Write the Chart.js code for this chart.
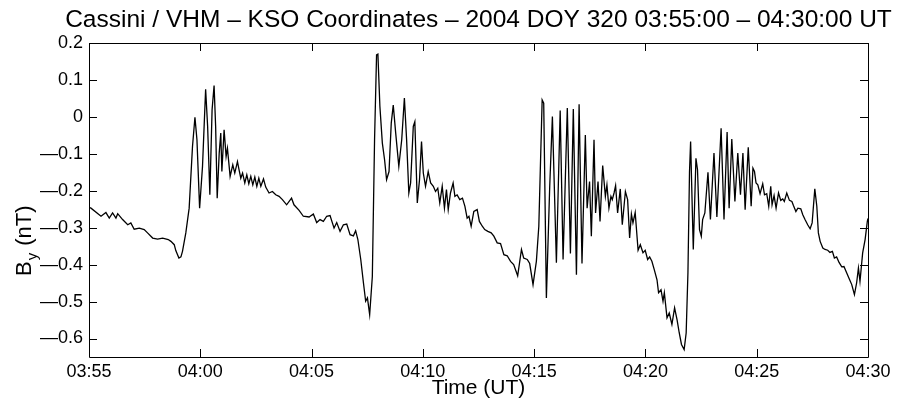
<!DOCTYPE html>
<html>
<head>
<meta charset="utf-8">
<script src="https://cdn.jsdelivr.net/npm/chart.js@4/dist/chart.umd.min.js"></script>
<style>
html,body{margin:0;padding:0;background:#fff;}
#wrap{width:910px;height:409px;}
</style>
</head>
<body>
<div id="wrap"><canvas id="c" width="910" height="409"></canvas></div>
<script>
// Time in minutes after 03:55:00 UT
const timeMin = [
  0, 0.09, 0.54, 0.76, 0.91, 1.06, 1.21, 1.29, 1.51, 1.74,
  1.88, 2.03, 2.26, 2.48, 2.63, 2.86, 3.08, 3.31, 3.56, 3.68,
  3.83, 3.90, 4.04, 4.13, 4.20, 4.35, 4.50, 4.65, 4.76, 4.85,
  4.97, 5.10, 5.24, 5.33, 5.43, 5.53, 5.62, 5.69, 5.76, 5.85,
  5.92, 5.97, 6.07, 6.16, 6.22, 6.34, 6.46, 6.55, 6.67, 6.74,
  6.82, 6.90, 7.00, 7.09, 7.18, 7.27, 7.36, 7.45, 7.54, 7.63,
  7.72, 7.84, 7.94, 8.09, 8.24, 8.39, 8.54, 8.69, 8.88, 9.10,
  9.21, 9.44, 9.63, 9.89, 10.08, 10.23, 10.38, 10.53, 10.68, 10.83,
  11.01, 11.13, 11.28, 11.43, 11.58, 11.73, 11.88, 11.98, 12.08, 12.21,
  12.33, 12.43, 12.51, 12.61, 12.73, 12.83, 12.92, 12.98, 13.07, 13.18,
  13.28, 13.37, 13.48, 13.58, 13.67, 13.78, 13.92, 14.05, 14.17, 14.27,
  14.37, 14.45, 14.57, 14.64, 14.75, 14.85, 14.94, 15.02, 15.12, 15.24,
  15.35, 15.47, 15.57, 15.67, 15.76, 15.87, 15.97, 16.06, 16.14, 16.24,
  16.36, 16.44, 16.54, 16.66, 16.78, 16.89, 16.99, 17.07, 17.17, 17.29,
  17.44, 17.54, 17.67, 17.78, 17.92, 18.07, 18.19, 18.34, 18.49, 18.64,
  18.79, 18.94, 19.08, 19.26, 19.43, 19.53, 19.69, 19.80, 19.95, 20.10,
  20.21, 20.36, 20.43, 20.55, 20.70, 20.82, 21.00, 21.17, 21.30, 21.49,
  21.63, 21.76, 21.90, 22.02, 22.15, 22.30, 22.38, 22.49, 22.57, 22.69,
  22.76, 22.87, 22.96, 23.08, 23.20, 23.27, 23.36, 23.45, 23.51, 23.59,
  23.66, 23.75, 23.87, 23.96, 24.10, 24.20, 24.29, 24.37, 24.44, 24.54,
  24.67, 24.77, 24.89, 24.99, 25.10, 25.19, 25.29, 25.40, 25.52, 25.59,
  25.70, 25.79, 25.85, 25.97, 26.07, 26.19, 26.31, 26.42, 26.52, 26.62,
  26.74, 26.83, 26.91, 26.98, 27.03, 27.15, 27.27, 27.34, 27.43, 27.51,
  27.57, 27.67, 27.81, 27.92, 28.08, 28.21, 28.40, 28.53, 28.67, 28.76,
  28.88, 29.02, 29.15, 29.27, 29.38, 29.48, 29.62, 29.75, 29.83, 29.90,
  29.97, 30.05, 30.15, 30.27, 30.35, 30.45, 30.54, 30.63, 30.69, 30.78,
  30.87, 30.98, 31.08, 31.17, 31.24, 31.35, 31.47, 31.58, 31.65, 31.76,
  31.85, 31.98, 32.07, 32.17, 32.29, 32.40, 32.49, 32.61, 32.70, 32.77,
  32.85, 32.97, 33.07, 33.19, 33.29, 33.40, 33.49, 33.59, 33.70, 33.82,
  33.92, 34.04, 34.16, 34.27, 34.39, 34.49, 34.57, 34.64, 34.76, 34.87,
  34.97, 35.00
];
// B_y in nT
const byNT = [
  -0.245, -0.247, -0.269, -0.259, -0.274, -0.260, -0.274, -0.262, -0.278, -0.292,
  -0.287, -0.304, -0.301, -0.305, -0.314, -0.328, -0.331, -0.328, -0.332, -0.337,
  -0.346, -0.362, -0.382, -0.379, -0.364, -0.314, -0.247, -0.080, -0.001, -0.062,
  -0.247, -0.134, 0.075, -0.026, -0.211, 0.019, 0.085, -0.026, -0.220, -0.098,
  -0.044, -0.148, -0.035, -0.107, -0.085, -0.161, -0.130, -0.152, -0.121, -0.143,
  -0.166, -0.152, -0.179, -0.157, -0.181, -0.161, -0.184, -0.163, -0.188, -0.166,
  -0.188, -0.168, -0.190, -0.206, -0.202, -0.211, -0.215, -0.224, -0.238, -0.220,
  -0.238, -0.253, -0.269, -0.271, -0.263, -0.286, -0.278, -0.283, -0.269, -0.267,
  -0.301, -0.286, -0.310, -0.292, -0.290, -0.319, -0.322, -0.308, -0.332, -0.386,
  -0.449, -0.499, -0.490, -0.535, -0.432, -0.062, 0.168, 0.170, 0.028, -0.071,
  -0.116, -0.170, -0.148, -0.017, 0.032, -0.044, -0.134, -0.062, 0.051, -0.062,
  -0.206, -0.179, -0.026, -0.013, -0.233, -0.170, -0.067, -0.152, -0.188, -0.148,
  -0.179, -0.188, -0.202, -0.193, -0.233, -0.188, -0.247, -0.197, -0.251, -0.206,
  -0.179, -0.215, -0.211, -0.224, -0.220, -0.242, -0.274, -0.269, -0.296, -0.256,
  -0.251, -0.283, -0.296, -0.305, -0.310, -0.314, -0.323, -0.341, -0.343, -0.373,
  -0.376, -0.391, -0.400, -0.430, -0.359, -0.382, -0.386, -0.397, -0.454, -0.391,
  -0.296, 0.046, 0.037, -0.490, -0.188, 0.001, -0.395, 0.017, -0.386, 0.024,
  -0.370, 0.021, -0.427, 0.034, -0.397, -0.049, -0.247, -0.175, -0.323, -0.062,
  -0.260, -0.175, -0.283, -0.132, -0.215, -0.184, -0.247, -0.215, -0.224, -0.206,
  -0.186, -0.260, -0.195, -0.292, -0.202, -0.224, -0.328, -0.263, -0.287, -0.259,
  -0.361, -0.346, -0.368, -0.361, -0.386, -0.379, -0.391, -0.414, -0.441, -0.476,
  -0.468, -0.499, -0.476, -0.544, -0.531, -0.562, -0.517, -0.549, -0.585, -0.616,
  -0.630, -0.585, -0.422, -0.150, -0.067, -0.359, -0.112, -0.143, -0.305, -0.323,
  -0.278, -0.260, -0.150, -0.278, -0.098, -0.271, -0.031, -0.278, -0.041, -0.247,
  -0.060, -0.229, -0.098, -0.211, -0.098, -0.251, -0.082, -0.242, -0.139, -0.148,
  -0.179, -0.184, -0.208, -0.181, -0.211, -0.208, -0.242, -0.188, -0.238, -0.213,
  -0.247, -0.206, -0.226, -0.222, -0.229, -0.206, -0.226, -0.229, -0.240, -0.256,
  -0.247, -0.249, -0.265, -0.278, -0.292, -0.303, -0.287, -0.195, -0.242, -0.314,
  -0.337, -0.355, -0.359, -0.361, -0.367, -0.364, -0.382, -0.379, -0.394, -0.406,
  -0.405, -0.422, -0.439, -0.454, -0.481, -0.449, -0.409, -0.445, -0.368, -0.332,
  -0.283, -0.275
];
const xTickValues = [0, 5, 10, 15, 20, 25, 30, 35];
const xTickLabels = ['03:55', '04:00', '04:05', '04:10', '04:15', '04:20', '04:25', '04:30'];
const yTickValues = [-0.6, -0.5, -0.4, -0.3, -0.2, -0.1, 0, 0.1, 0.2];
const yTickLabels = ['\u20140.6', '\u20140.5', '\u20140.4', '\u20140.3', '\u20140.2', '\u20140.1', '0', '0.1', '0.2'];
const titleText = 'Cassini / VHM \u2013 KSO Coordinates \u2013 2004 DOY 320 03:55:00 \u2013 04:30:00 UT';
const xTitle = 'Time (UT)';

const FONT = "'Liberation Sans', Arial, Helvetica, sans-serif";
const points = timeMin.map((t, i) => ({x: t, y: byNT[i]}));

const framePlugin = {
  id: 'frame',
  afterDraw(chart) {
    const ctx = chart.ctx;
    const a = chart.chartArea;
    const xs = chart.scales.x, ys = chart.scales.y;
    const L = 8;
    ctx.save();
    ctx.strokeStyle = '#000';
    ctx.lineWidth = 1;
    ctx.beginPath();
    ctx.rect(Math.round(a.left) + 0.5, Math.round(a.top) + 0.5, Math.round(a.right - a.left), Math.round(a.bottom - a.top));
    xTickValues.forEach(v => {
      const px = Math.round(xs.getPixelForValue(v)) + 0.5;
      ctx.moveTo(px, a.bottom); ctx.lineTo(px, a.bottom - L);
      ctx.moveTo(px, a.top); ctx.lineTo(px, a.top + L);
    });
    yTickValues.forEach(v => {
      const py = Math.round(ys.getPixelForValue(v)) + 0.5;
      ctx.moveTo(a.left, py); ctx.lineTo(a.left + L, py);
      ctx.moveTo(a.right, py); ctx.lineTo(a.right - L, py);
    });
    ctx.stroke();
    ctx.fillStyle = '#000';
    // title centred over the plot box
    ctx.font = '24.5px ' + FONT;
    ctx.textAlign = 'center';
    ctx.textBaseline = 'alphabetic';
    ctx.fillText(titleText, (a.left + a.right) / 2, 26.5);
    // y-axis label with subscript
    ctx.translate(31, (a.top + a.bottom) / 2 + 76);
    ctx.rotate(-Math.PI / 2);
    ctx.textAlign = 'left';
    ctx.font = '22px ' + FONT;
    ctx.fillText('B', 0, 0);
    const wB = ctx.measureText('B').width;
    ctx.font = '15px ' + FONT;
    ctx.fillText('y', wB + 1, 6);
    const wy = ctx.measureText('y').width;
    ctx.font = '22px ' + FONT;
    ctx.fillText(' (nT)', wB + wy + 2, 0);
    ctx.restore();
  }
};

new Chart(document.getElementById('c'), {
  type: 'line',
  data: {
    datasets: [{
      data: points,
      borderColor: '#000',
      borderWidth: 1.3,
      pointRadius: 0,
      tension: 0,
      fill: false
    }]
  },
  options: {
    responsive: false,
    devicePixelRatio: 1,
    animation: false,
    events: [],
    layout: {padding: {left: 0, right: 42, top: 43, bottom: 0}},
    plugins: {
      legend: {display: false},
      tooltip: {enabled: false},
      title: {display: false}
    },
    scales: {
      x: {
        type: 'linear',
        min: 0, max: 35,
        afterBuildTicks: s => { s.ticks = xTickValues.map(v => ({value: v})); },
        afterFit: s => { s.height = 52; },
        ticks: {
          color: '#000',
          font: {family: FONT, size: 18},
          padding: 4,
          maxRotation: 0,
          autoSkip: false,
          callback: (v) => xTickLabels[xTickValues.indexOf(v)]
        },
        grid: {display: false, drawTicks: false},
        border: {display: false},
        title: {
          display: true,
          text: xTitle,
          color: '#000',
          font: {family: FONT, size: 21},
          padding: {top: 0, bottom: 8}
        }
      },
      y: {
        type: 'linear',
        min: -0.65, max: 0.2,
        afterBuildTicks: s => { s.ticks = yTickValues.map(v => ({value: v})); },
        afterFit: s => { s.width = 89; },
        ticks: {
          color: '#000',
          font: {family: FONT, size: 18},
          padding: 6,
          autoSkip: false,
          callback: (v) => yTickLabels[yTickValues.findIndex(t => Math.abs(t - v) < 1e-9)]
        },
        grid: {display: false, drawTicks: false},
        border: {display: false}
      }
    }
  },
  plugins: [framePlugin]
});
</script>
</body>
</html>
